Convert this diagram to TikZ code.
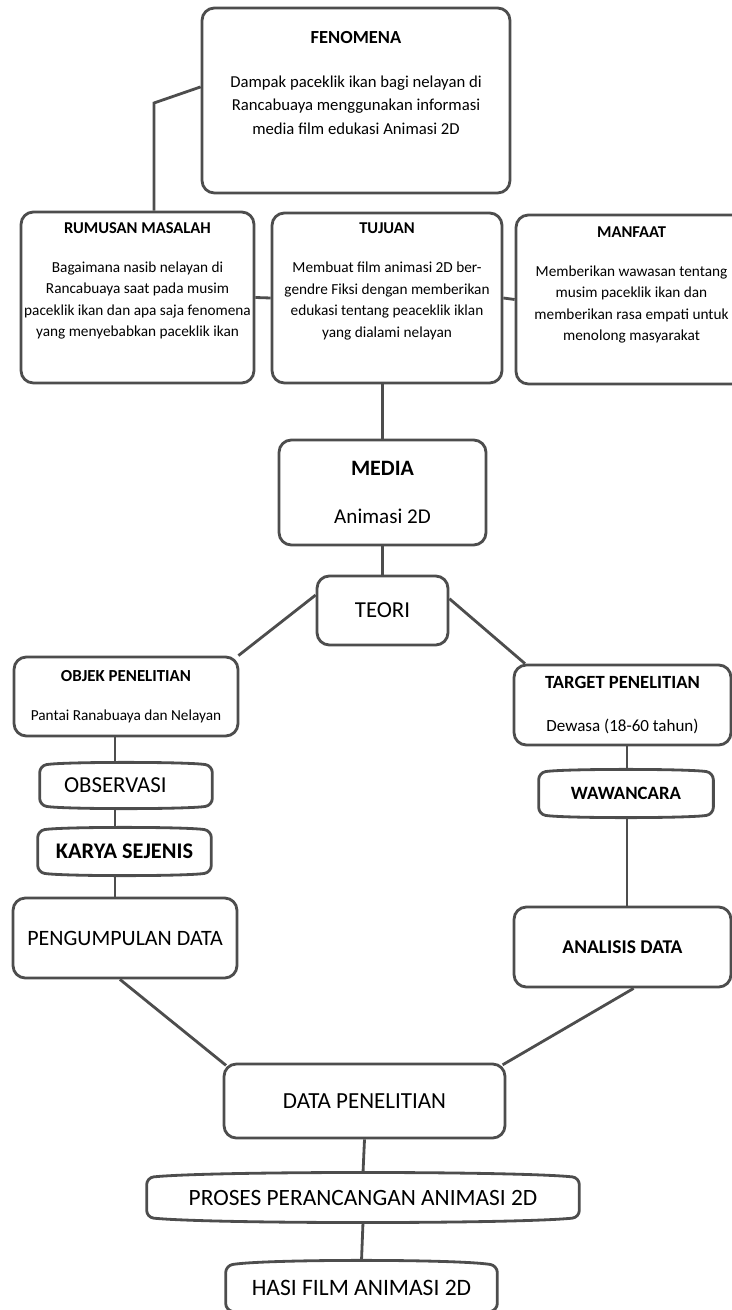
\documentclass[tikz,border=0pt]{standalone}
\usepackage{fontspec}
\setmainfont{Carlito}
\usepackage{tikz}
\usetikzlibrary{calc}
\usetikzlibrary{positioning}
\definecolor{boxgray}{HTML}{4D4D4D}
\tikzset{box/.style={draw=boxgray, line width=1.6pt, rounded corners=7pt, inner sep=2pt, align=center}}
\tikzset{tapebox/.style={inner sep=2pt, align=center}}
\tikzset{txt/.style={inner sep=0pt, align=center}}
\tikzset{link/.style={draw=boxgray, line width=1.6pt}}
% outline with a bulging top and bottom, drawn round a named node
\newcommand{\tapeborder}[2]{%
	\draw[link, rounded corners=4pt] ($(#1.north west)+(0pt,-#2)$)
		.. controls ($(#1.north west)!0.15!(#1.north east)+(0pt,#2/3)$) and ($(#1.north west)!0.85!(#1.north east)+(0pt,#2/3)$) .. ($(#1.north east)+(0pt,-#2)$)
		-- ($(#1.south east)+(0pt,#2)$)
		.. controls ($(#1.south west)!0.85!(#1.south east)+(0pt,-#2/3)$) and ($(#1.south west)!0.15!(#1.south east)+(0pt,-#2/3)$) .. ($(#1.south west)+(0pt,#2)$)
		-- cycle;}

\begin{document}
\begin{tikzpicture}[x=0.02cm, y=-0.02cm]
	% Default look for the text
	\tikzstyle{every node}=[text=black];
	\useasboundingbox (0,0) rectangle (732,1310);

	% TOP
	\node[box, minimum width=6.16cm, minimum height=3.70cm] (fenomena) at (356,100.5) {};
	\node[txt, font=\fontsize{9.5}{13.3}\selectfont] (fenomena text) at (356,83) {{\fontsize{10.5}{12}\selectfont\bfseries FENOMENA}\\[11.7pt]Dampak paceklik ikan bagi nelayan di\\Rancabuaya menggunakan informasi\\media film edukasi Animasi 2D};

	\node[box, minimum width=4.66cm, minimum height=3.42cm] (rumusan) at (137.5,297.5) {};
	\node[txt, font=\fontsize{8.7}{12.3}\selectfont] (rumusan text) at (137.5,281) {{\fontsize{9.4}{11}\selectfont\bfseries RUMUSAN MASALAH}\\[9.8pt]Bagaimana nasib nelayan di\\Rancabuaya saat pada musim\\paceklik ikan dan apa saja fenomena\\yang menyebabkan paceklik ikan};

	\node[box, minimum width=4.60cm, minimum height=3.40cm] (tujuan) at (387,298) {};
	\node[txt, font=\fontsize{8.7}{12.3}\selectfont] (tujuan text) at (387,281.5) {{\fontsize{9.4}{11}\selectfont\bfseries TUJUAN}\\[9.8pt]Membuat film animasi 2D ber-\\gendre Fiksi dengan memberikan\\edukasi tentang peaceklik iklan\\yang dialami nelayan};

	\node[box, minimum width=4.68cm, minimum height=3.38cm] (manfaat) at (633,299.5) {};
	\node[txt, font=\fontsize{8.7}{12.3}\selectfont] (manfaat text) at (631.5,285) {{\fontsize{9.4}{11}\selectfont\bfseries MANFAAT}\\[9.8pt]Memberikan wawasan tentang\\musim paceklik ikan dan\\memberikan rasa empati untuk\\menolong masyarakat};

	% MIDDLE
	\node[box, minimum width=4.14cm, minimum height=2.10cm, font=\fontsize{12}{14}\selectfont] (media) at (382.5,492.5) {{\fontsize{12.5}{14}\selectfont\bfseries MEDIA}\\[13.8pt]Animasi 2D};
	\node[box, minimum width=2.62cm, minimum height=1.38cm, font=\fontsize{13}{15}\selectfont] (teori) at (382.5,610.5) {TEORI};

	% LEFT
	\node[box, minimum width=4.48cm, minimum height=1.58cm, font=\fontsize{8.7}{10.5}\selectfont] (objek) at (126,696.5) {{\fontsize{9.6}{11}\selectfont\bfseries OBJEK PENELITIAN}\\[11.5pt]Pantai Ranabuaya dan Nelayan};
	\node[tapebox, minimum width=3.44cm, minimum height=0.90cm, text width=2.48cm, align=left, font=\fontsize{13}{15}\selectfont] (observasi) at (126,785.5) {OBSERVASI};
	\node[tapebox, minimum width=3.46cm, minimum height=0.94cm, font=\fontsize{12.7}{15}\selectfont\bfseries] (karya) at (124.5,851.5) {KARYA SEJENIS};
	\node[box, minimum width=4.48cm, minimum height=1.60cm, font=\fontsize{12.5}{15}\selectfont] (pengumpulan) at (125,938) {PENGUMPULAN DATA};

	% RIGHT
	\node[box, minimum width=4.34cm, minimum height=1.60cm, font=\fontsize{9.7}{12}\selectfont] (target) at (622.5,705) {{\fontsize{10.6}{12}\selectfont\bfseries TARGET PENELITIAN}\\[12.4pt]Dewasa (18-60 tahun)};
	\node[tapebox, minimum width=3.48cm, minimum height=0.94cm, font=\fontsize{10.7}{13}\selectfont\bfseries] (wawancara) at (626,793.5) {WAWANCARA};
	\node[box, minimum width=4.34cm, minimum height=1.60cm, font=\fontsize{11.1}{13}\selectfont\bfseries] (analisis) at (622.5,947) {ANALISIS DATA};

	% BOTTOM
	\node[box, minimum width=5.62cm, minimum height=1.48cm, font=\fontsize{13.1}{15}\selectfont] (data) at (364.5,1101) {DATA PENELITIAN};
	\node[tapebox, minimum width=8.64cm, minimum height=0.98cm, font=\fontsize{13.3}{15}\selectfont] (proses) at (363,1197.5) {PROSES PERANCANGAN ANIMASI 2D};
	\node[tapebox, minimum width=5.42cm, minimum height=1.08cm, font=\fontsize{13.4}{15}\selectfont] (hasi) at (361.5,1288) {HASI FILM ANIMASI 2D};

	% Outlines
	\tapeborder{observasi}{1.7pt}
	\tapeborder{karya}{1.7pt}
	\tapeborder{wawancara}{1.7pt}
	\tapeborder{proses}{2.8pt}
	\tapeborder{hasi}{2.8pt}

	% Connectors
	\coordinate (fenomena bend) at (154,103);
	\coordinate (left spine) at (115,0);
	\coordinate (right spine) at (627,0);

	\draw[link] (fenomena.175) -- (fenomena bend) -- (fenomena bend |- rumusan.north);
	\draw[link] (rumusan.east) -- (tujuan.west);
	\draw[link] (tujuan.east) -- (manfaat.west);
	\draw[link] (media.north) -- (media.north |- tujuan.south);
	\draw[link] (media.south) -- (teori.north);

	\draw[link] (teori.167) -- (objek.20);
	\draw[link] (teori.10) -- (target.157);

	\draw[link] (objek.south -| left spine) -- (observasi.north -| left spine);
	\draw[link] (observasi.south -| left spine) -- (karya.north -| left spine);
	\draw[link] (karya.south -| left spine) -- (pengumpulan.north -| left spine);

	\draw[link] (target.south -| right spine) -- (wawancara.north -| right spine);
	\draw[link] (wawancara.south -| right spine) -- (analisis.north -| right spine);

	\draw[link, shorten >=-2.5pt] (pengumpulan.263) -- (data.north west);
	\draw[link, shorten >=-2.5pt] (analisis.285) -- (data.north east);
	\draw[link] (data.south) -- (proses.north);
	\draw[link] (proses.south) -- (hasi.north);
\end{tikzpicture}
\end{document}
